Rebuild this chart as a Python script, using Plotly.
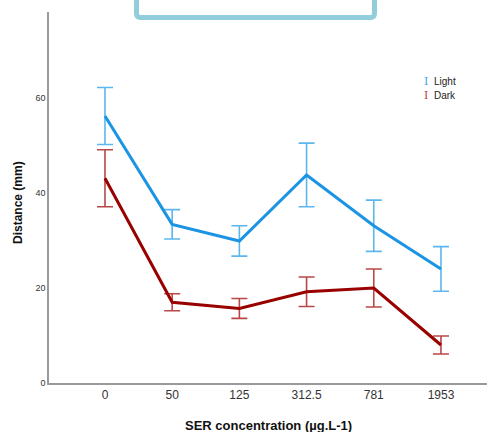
import plotly.graph_objects as go

categories = ["0", "50", "125", "312.5", "781", "1953"]
light_mean = [56.2, 33.4, 29.9, 43.8, 33.1, 24.0]
light_err = [6.0, 3.1, 3.2, 6.7, 5.4, 4.7]
dark_mean = [43.1, 17.0, 15.7, 19.2, 20.0, 8.0]
dark_err = [6.0, 1.8, 2.1, 3.1, 4.0, 1.9]
y_ticks = [0, 20, 40, 60]

fig = go.Figure()
fig.add_trace(go.Scatter(
    x=categories, y=light_mean, mode="lines", name="Light",
    line=dict(color="#1C94E4", width=3),
    error_y=dict(type="data", array=light_err, color="#5DB6EE", thickness=1.6, width=8),
))
fig.add_trace(go.Scatter(
    x=categories, y=dark_mean, mode="lines", name="Dark",
    line=dict(color="#990000", width=3),
    error_y=dict(type="data", array=dark_err, color="#B84848", thickness=1.6, width=8),
))

L, T, B = 49, 12, 49
PW, PH = 487 - L, 432 - T - B

fig.update_layout(
    width=487, height=432,
    margin=dict(l=L, r=0, t=T, b=B, autoexpand=False),
    paper_bgcolor="white", plot_bgcolor="white",
    showlegend=False,
    font=dict(family="Liberation Sans, Arial, sans-serif", color="#222"),
    xaxis=dict(
        type="category", range=[-0.833, 5.685], automargin=False,
        showline=True, linecolor="#9a9a9a", linewidth=1.5,
        showgrid=False, zeroline=False, ticks="", ticklen=0,
        tickfont=dict(size=12, color="#333"),
    ),
    yaxis=dict(
        range=[0, 78.1], tickvals=y_ticks, automargin=False,
        showline=True, linecolor="#9a9a9a", linewidth=1.5,
        showgrid=False, zeroline=False, ticks="",
        tickfont=dict(size=9, color="#333"),
    ),
)

# axis titles
fig.add_annotation(xref="paper", yref="paper", x=(268 - L) / PW, y=(383 - 425) / PH,
                   text="<b>SER concentration (µg.L-1)</b>", showarrow=False,
                   xanchor="center", yanchor="middle", font=dict(size=13, color="#111"))
fig.add_annotation(xref="paper", yref="paper", x=(18 - L) / PW, y=(383 - 203) / PH,
                   text="<b>Distance (mm)</b>", showarrow=False, textangle=-90,
                   xanchor="center", yanchor="middle", font=dict(size=12, color="#111"))

# top rounded frame (cropped box)
fig.add_shape(type="path", xref="paper", yref="paper",
              path="M {a},{top} L {a},{yb2} Q {a},{yb} {a2},{yb} L {b2},{yb} Q {b},{yb} {b},{yb2} L {b},{top}".format(
                  a=(136.5 - L) / PW, a2=(140.5 - L) / PW, b=(374.5 - L) / PW, b2=(370.5 - L) / PW,
                  yb=(383 - 17.5) / PH, yb2=(383 - 13.5) / PH, top=1.2),
              line=dict(color="#92CDDC", width=5))

# legend drawn as annotations
for i, (name, col) in enumerate([("Light", "#3AA6EC"), ("Dark", "#C03A3A")]):
    yy = (383 - (82 + 14 * i)) / PH
    fig.add_annotation(xref="paper", yref="paper", x=(426 - L) / PW, y=yy,
                       text="I", showarrow=False, xanchor="center", yanchor="middle",
                       font=dict(family="DejaVu Serif", size=11, color=col))
    fig.add_annotation(xref="paper", yref="paper", x=(432 - L) / PW, y=yy,
                       text=name, showarrow=False, xanchor="left", yanchor="middle",
                       font=dict(size=10, color="#222"))

fig.write_html("out.html", config={"displayModeBar": False},
               post_script="document.body.style.margin='0';document.body.style.overflow='hidden';")
